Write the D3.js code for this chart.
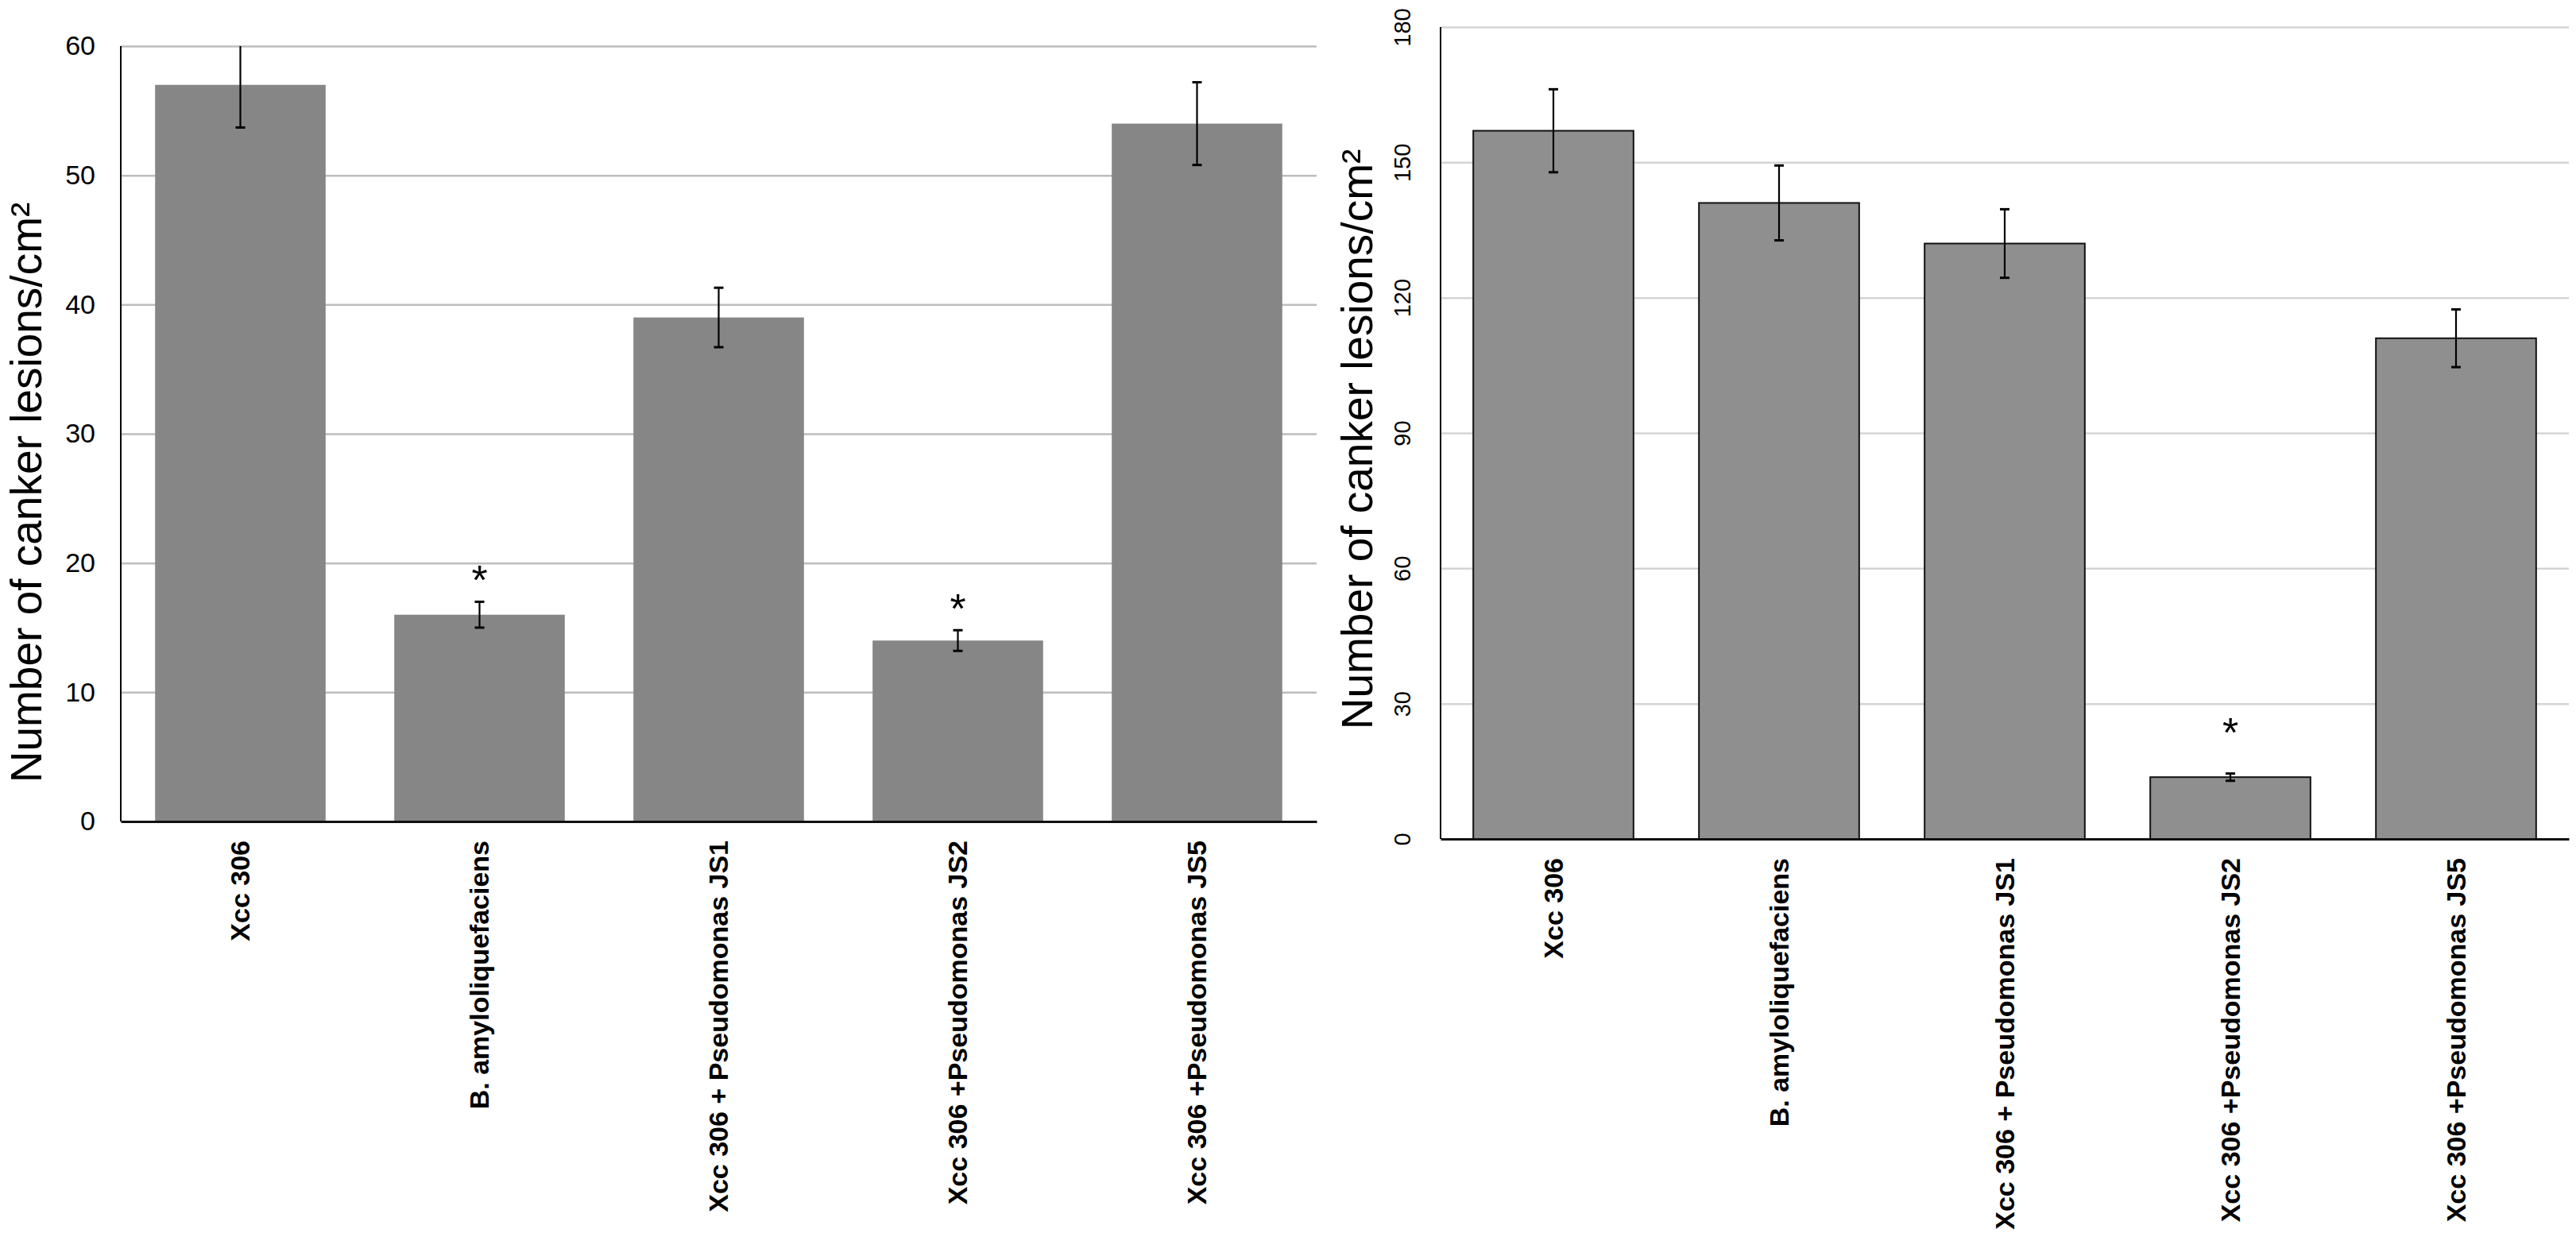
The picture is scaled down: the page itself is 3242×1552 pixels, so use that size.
<!DOCTYPE html>
<html>
<head>
<meta charset="utf-8">
<script src="https://cdn.jsdelivr.net/npm/d3@7"></script>
<style>
  body { margin: 0; background: #fff; }
  svg { display: block; font-family: "Liberation Sans", Arial, Helvetica, sans-serif; }
</style>
</head>
<body>
<div id="chart"></div>
<script>
// Categories shared by both panels
const categories = [
    "Xcc 306",
    "B. amyloliquefaciens",
    "Xcc 306 + Pseudomonas JS1",
    "Xcc 306 +Pseudomonas JS2",
    "Xcc 306 +Pseudomonas JS5"
];

// Left panel: lesions/cm2, mean and error
const leftMeans = [57, 16, 39, 14, 54];
const leftErrors = [3.3, 1.0, 2.3, 0.8, 3.2];
const leftSignif = ["", "*", "", "*", ""];
const leftTicks = [0, 10, 20, 30, 40, 50, 60];

// Right panel
const rightMeans = [157, 141, 132, 13.7, 111];
const rightErrors = [9.2, 8.3, 7.6, 0.8, 6.4];
const rightSignif = ["", "", "", "*", ""];
const rightTicks = [0, 30, 60, 90, 120, 150, 180];

const yTitle = "Number of canker lesions/cm\u00B2";

const W = 3242, H = 1552;

const svg = d3.select("#chart")
    .append("svg")
    .attr("width", W)
    .attr("height", H);

svg.append("rect").attr("width", W).attr("height", H).attr("fill", "#fff");

// draws one panel; opts holds layout/style only
function drawPanel(means, errors, signif, ticks, opts) {
    const data = categories.map((c, i) => ({ cat: c, mean: means[i], err: errors[i], sig: signif[i] }));
    const yMax = ticks[ticks.length - 1];

    const x = d3.scaleBand()
        .domain(categories)
        .range([opts.left, opts.right])
        .paddingInner(opts.padIn)
        .paddingOuter(opts.padIn / 2);

    const y = d3.scaleLinear()
        .domain([0, yMax])
        .range([opts.bottom, opts.top]);

    const g = svg.append("g");

    // gridlines
    g.append("g")
        .attr("transform", "translate(" + opts.left + ",0)")
        .call(d3.axisLeft(y).tickValues(ticks.slice(1)).tickSize(-(opts.right - opts.left)).tickFormat(""))
        .call(s => s.select(".domain").remove())
        .selectAll("line")
        .attr("stroke", opts.gridColor)
        .attr("stroke-width", 2.5);

    // bars
    g.selectAll(".bar")
        .data(data)
        .enter()
        .append("rect")
        .attr("class", "bar")
        .attr("x", d => x(d.cat))
        .attr("y", d => y(d.mean))
        .attr("width", x.bandwidth())
        .attr("height", d => y(0) - y(d.mean))
        .attr("fill", opts.barFill)
        .attr("stroke", opts.barStroke)
        .attr("stroke-width", opts.barStrokeWidth);

    // error bars
    const eb = g.selectAll(".err")
        .data(data)
        .enter()
        .append("g")
        .attr("class", "err")
        .attr("transform", d => "translate(" + (x(d.cat) + x.bandwidth() / 2) + ",0)");

    eb.append("line")
        .attr("y1", d => y(d.mean - d.err))
        .attr("y2", d => y(Math.min(d.mean + d.err, yMax)))
        .attr("stroke", "#000")
        .attr("stroke-width", 2.2);

    eb.filter(d => d.mean + d.err <= yMax)
        .append("line")
        .attr("x1", -6).attr("x2", 6)
        .attr("y1", d => y(d.mean + d.err))
        .attr("y2", d => y(d.mean + d.err))
        .attr("stroke", "#000")
        .attr("stroke-width", 3);

    eb.append("line")
        .attr("x1", -6).attr("x2", 6)
        .attr("y1", d => y(d.mean - d.err))
        .attr("y2", d => y(d.mean - d.err))
        .attr("stroke", "#000")
        .attr("stroke-width", 3);

    // significance stars
    eb.filter(d => d.sig)
        .append("text")
        .attr("y", d => y(d.mean + d.err) - opts.starGap + 30)
        .attr("text-anchor", "middle")
        .attr("font-size", 52)
        .attr("fill", "#000")
        .text(d => d.sig);

    // y axis line
    g.append("line")
        .attr("x1", opts.left).attr("x2", opts.left)
        .attr("y1", y(0)).attr("y2", y(yMax))
        .attr("stroke", "#000")
        .attr("stroke-width", 2);

    // y tick labels
    const yAxis = g.append("g")
        .attr("transform", "translate(" + opts.left + ",0)")
        .call(d3.axisLeft(y).tickValues(ticks).tickSize(0).tickPadding(opts.tickPad));
    yAxis.select(".domain").remove();
    yAxis.selectAll("text")
        .attr("font-size", opts.tickSize)
        .attr("font-family", "Liberation Sans, Arial, sans-serif")
        .attr("fill", "#000");
    if (opts.rotateTicks) {
        yAxis.selectAll("text")
            .attr("x", 0).attr("dy", 0)
            .attr("transform", "translate(" + (-opts.tickPad) + ",0) rotate(-90)")
            .attr("text-anchor", "middle");
    }

    // x axis + category labels
    const xAxis = g.append("g")
        .attr("transform", "translate(0," + y(0) + ")")
        .call(d3.axisBottom(x).tickSize(0));
    xAxis.select(".domain")
        .attr("stroke", "#111")
        .attr("stroke-width", 3);
    xAxis.selectAll("text")
        .attr("transform", "rotate(-90)")
        .attr("x", -opts.labelGap)
        .attr("y", 0)
        .attr("dy", "0.35em")
        .attr("text-anchor", "end")
        .attr("font-size", 34)
        .attr("font-weight", "bold")
        .attr("font-family", "Liberation Sans, Arial, sans-serif")
        .attr("fill", "#000");

    // y title
    g.append("text")
        .attr("transform", "translate(" + opts.titleX + "," + opts.titleY + ") rotate(-90)")
        .attr("text-anchor", "middle")
        .attr("font-size", 55)
        .attr("fill", "#000")
        .text(yTitle);
}

drawPanel(leftMeans, leftErrors, leftSignif, leftTicks, {
    left: 152, right: 1657, top: 58, bottom: 1034, padIn: 0.287,
    gridColor: "#bdbdbd", barFill: "#868686", barStroke: "none", barStrokeWidth: 0,
    tickPad: 32, tickSize: 34, rotateTicks: false, labelGap: 24,
    titleX: 52, titleY: 620, starGap: 39
});

drawPanel(rightMeans, rightErrors, rightSignif, rightTicks, {
    left: 1813, right: 3233, top: 34, bottom: 1056, padIn: 0.29,
    gridColor: "#d4d4d4", barFill: "#8f8f8f", barStroke: "#111", barStrokeWidth: 2,
    tickPad: 38, tickSize: 29, rotateTicks: true, labelGap: 24,
    titleX: 1727, titleY: 553, starGap: 64
});
</script>
</body>
</html>
